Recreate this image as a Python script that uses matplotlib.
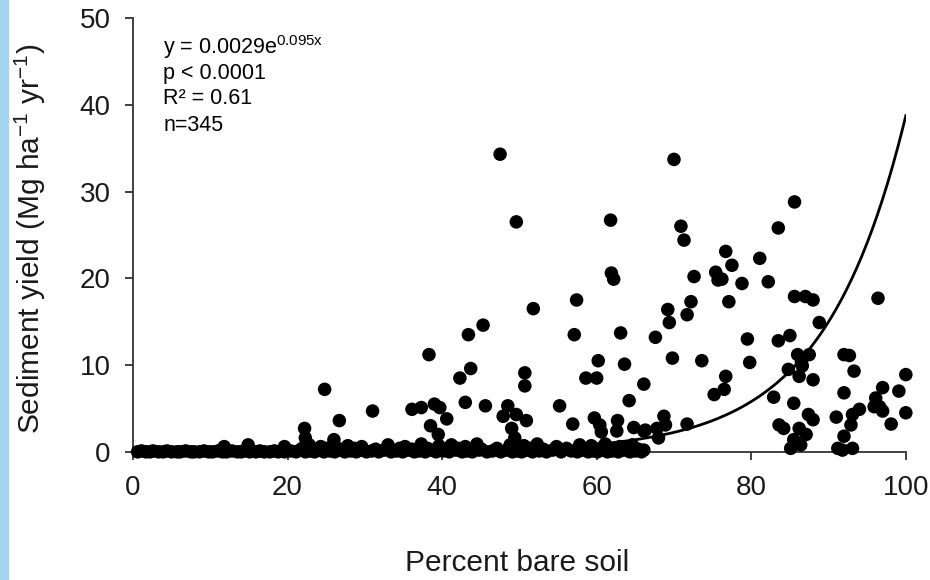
import numpy as np
import matplotlib
matplotlib.use("Agg")
import matplotlib.pyplot as plt
from matplotlib.patches import Rectangle

plt.rcParams['font.family'] = ['Liberation Sans', 'DejaVu Sans']
plt.rcParams['mathtext.fontset'] = 'custom'
plt.rcParams['mathtext.rm'] = 'Liberation Sans'
plt.rcParams['mathtext.it'] = 'Liberation Sans:italic'

# scattered points (percent bare soil, sediment yield)
bare_soil = [47.5, 49.6, 61.8, 61.9, 62.2, 51.8, 57.4, 45.3, 43.4, 57.1, 63.1, 67.6,
             38.3, 43.7, 42.3, 50.7, 50.7, 60.2, 63.6, 58.6, 60.0, 66.1, 64.2,
             36.1, 37.3, 39.0, 39.7, 40.6, 38.5, 39.5, 43.0, 45.6,
             48.5, 47.9, 49.6, 50.9, 49.0, 49.4, 55.2, 56.9,
             59.7, 60.4, 60.6, 62.7, 62.6, 64.8, 66.1,
             24.8, 26.7, 31.0, 22.2, 22.3, 26.0,
             70.0, 70.9, 71.3, 85.6, 83.5, 76.7, 77.5, 81.1, 72.6, 75.4, 75.7,
             78.8, 82.2, 72.2, 77.1, 85.6, 87.0, 88.0, 96.4, 69.2, 69.4, 71.7,
             88.8, 79.5, 83.5, 85.0, 69.8, 73.6, 79.8, 86.0, 87.5, 86.5, 84.8,
             86.2, 88.0, 92.0, 92.7, 93.3, 100.0, 76.7, 75.2, 76.5, 82.9, 85.5,
             87.4, 88.0, 92.0, 97.0, 96.1, 96.6, 99.1, 100.0, 98.1, 91.0, 93.1,
             94.0, 92.9, 92.0, 91.2, 93.1, 91.8, 83.6, 84.2, 86.2, 87.1, 85.5,
             85.1, 86.4, 68.7, 68.9, 67.8, 68.0, 71.7, 66.3, 66.1, 86.6, 76.2,
             97.0, 95.9]
sediment = [34.3, 26.5, 26.7, 20.6, 19.9, 16.5, 17.5, 14.6, 13.5, 13.5, 13.7, 13.2,
            11.2, 9.6, 8.5, 9.1, 7.6, 10.5, 10.1, 8.5, 8.5, 7.8, 5.9,
            4.9, 5.1, 5.5, 5.1, 3.8, 3.0, 2.0, 5.7, 5.3,
            5.3, 4.1, 4.3, 3.6, 2.7, 1.6, 5.3, 3.2,
            3.9, 3.1, 2.3, 3.6, 2.4, 2.8, 2.4,
            7.2, 3.6, 4.7, 2.7, 1.6, 1.4,
            33.7, 26.0, 24.4, 28.8, 25.8, 23.1, 21.5, 22.3, 20.2, 20.7, 19.8,
            19.4, 19.6, 17.3, 17.3, 17.9, 17.9, 17.5, 17.7, 16.4, 14.9, 15.8,
            14.9, 13.0, 12.8, 13.4, 10.8, 10.5, 10.3, 11.2, 11.2, 10.3, 9.5,
            8.7, 8.3, 11.2, 11.1, 9.3, 8.9, 8.7, 6.6, 7.2, 6.3, 5.6,
            4.3, 3.7, 6.8, 7.4, 6.2, 5.2, 7.0, 4.5, 3.2, 4.0, 4.3,
            4.9, 3.1, 1.8, 0.4, 0.4, 0.2, 3.1, 2.7, 2.7, 2.0, 1.4,
            0.4, 0.8, 4.1, 3.1, 2.7, 1.6, 3.2, 2.5, 0.2, 9.9, 19.9,
            4.7, 5.2]

# points packed along the x axis
base_x = [0.6, 1.1, 1.7, 2.2, 2.6, 3.3, 3.9, 4.4, 5.0, 5.7, 6.1, 6.8, 7.5, 7.9,
          8.6, 9.2, 9.8, 10.3, 11.0, 11.6, 12.1, 12.8, 13.5, 14.0, 14.4, 15.1,
          15.9, 16.4, 17.0, 17.7, 18.3, 18.8, 19.6, 20.4, 21.1, 21.6, 22.3, 22.9,
          23.5, 24.0, 24.7, 25.5, 26.1, 26.8, 27.4, 28.2, 28.9, 29.5, 30.2, 30.9,
          31.8, 32.5, 33.4, 34.1, 34.9, 35.6, 36.4, 37.0, 37.8, 38.6, 39.2, 40.1,
          40.9, 41.8, 42.6, 43.2, 43.9, 44.8, 45.8, 46.5, 47.6, 48.4, 49.1, 49.8,
          50.3, 51.0, 51.7, 52.6, 53.5, 54.3, 55.4, 56.7, 57.5, 58.2, 58.9, 59.6,
          60.1, 60.8, 61.4, 62.0, 62.8, 63.5, 64.3, 65.0, 65.8,
          11.8, 14.9, 19.6, 22.8, 24.3, 26.0, 27.8, 29.6, 33.0, 35.2, 37.3, 39.6,
          41.2, 43.0, 44.5, 48.8, 50.6, 52.3, 54.8, 57.8, 59.3, 61.1, 63.0, 64.6,
          21.9, 23.2, 25.1, 27.1, 28.6, 31.4, 34.5, 36.1, 38.1, 40.5, 42.1, 45.1,
          47.1, 49.5, 51.4, 53.1, 56.1, 58.6, 60.5, 62.4, 64.0, 65.4]
base_y = [0.0, 0.1, 0.0, 0.0, 0.1, 0.0, 0.0, 0.1, 0.0, 0.0, 0.0, 0.1, 0.0, 0.0,
          0.0, 0.1, 0.0, 0.0, 0.1, 0.0, 0.0, 0.1, 0.0, 0.0, 0.1, 0.0,
          0.0, 0.1, 0.0, 0.0, 0.1, 0.0, 0.0, 0.1, 0.0, 0.2, 0.0, 0.1,
          0.0, 0.2, 0.0, 0.1, 0.0, 0.2, 0.0, 0.1, 0.0, 0.2, 0.0, 0.1,
          0.0, 0.2, 0.0, 0.1, 0.0, 0.2, 0.0, 0.1, 0.0, 0.2, 0.0, 0.1,
          0.0, 0.2, 0.0, 0.1, 0.0, 0.2, 0.0, 0.1, 0.0, 0.2, 0.0, 0.1,
          0.0, 0.2, 0.0, 0.1, 0.0, 0.2, 0.0, 0.1, 0.0, 0.2, 0.0, 0.1,
          0.0, 0.2, 0.0, 0.1, 0.0, 0.2, 0.0, 0.1, 0.0,
          0.6, 0.8, 0.6, 0.8, 0.6, 0.9, 0.7, 0.6, 0.8, 0.6, 0.9, 0.7,
          0.8, 0.6, 0.9, 0.8, 0.7, 0.9, 0.6, 0.8, 0.7, 0.9, 0.6, 0.8,
          0.4, 0.3, 0.4, 0.3, 0.4, 0.3, 0.4, 0.3, 0.4, 0.3, 0.4, 0.3,
          0.4, 0.3, 0.4, 0.3, 0.4, 0.3, 0.4, 0.3, 0.4, 0.3]

# exponential fit y = 0.0029 e^(0.095x)
fit_a = 0.0029
fit_b = 0.095

fig = plt.figure(figsize=(9.3, 5.8), dpi=100)
fig.patches.append(Rectangle((0, 0), 0.009, 1, transform=fig.transFigure,
                             color='#a3d5ef', zorder=0))
ax = fig.add_axes([0.143, 0.221, 0.831, 0.748])

ax.scatter(base_x, base_y, s=95, color='black', edgecolors='none', clip_on=False, zorder=3)
ax.scatter(bare_soil, sediment, s=95, color='black', edgecolors='none', clip_on=False, zorder=3)

xs = np.linspace(0, 100, 300)
ax.plot(xs, fit_a * np.exp(fit_b * xs), color='black', lw=2, zorder=4)

ax.set_xlim(0, 100)
ax.set_ylim(0, 50)
ax.set_xticks([0, 20, 40, 60, 80, 100])
ax.set_yticks([0, 10, 20, 30, 40, 50])
for s in ['top', 'right']:
    ax.spines[s].set_visible(False)
for s in ['left', 'bottom']:
    ax.spines[s].set_linewidth(1.3)
    ax.spines[s].set_color('#333333')
ax.tick_params(axis='both', direction='out', length=6, width=1.3, color='#333333',
               labelsize=20, labelcolor='#1a1a1a')
ax.tick_params(axis='y', pad=10)
ax.tick_params(axis='x', pad=11)

ax.set_xlabel('Percent bare soil', fontsize=21.5, color='#1a1a1a')
ax.xaxis.set_label_coords(0.497, -0.225)
ax.set_ylabel(r'Sediment yield (Mg ha$^{\mathrm{-1}}$ yr$^{\mathrm{-1}}$)', fontsize=21.5,
              color='#1a1a1a')
ax.yaxis.set_label_coords(-0.11, 0.49)

# fit statistics
ax.text(0.039, 0.933, r'y = 0.0029e$^{\mathrm{0.095x}}$', transform=ax.transAxes,
        fontsize=15.5, va='center', ha='left')
ax.text(0.039, 0.873, 'p < 0.0001', transform=ax.transAxes, fontsize=15.5, va='center', ha='left')
ax.text(0.039, 0.815, 'R² = 0.61', transform=ax.transAxes, fontsize=15.5, va='center', ha='left')
ax.text(0.039, 0.753, 'n=345', transform=ax.transAxes, fontsize=15.5, va='center', ha='left')

fig.savefig('out.png', dpi=100)
